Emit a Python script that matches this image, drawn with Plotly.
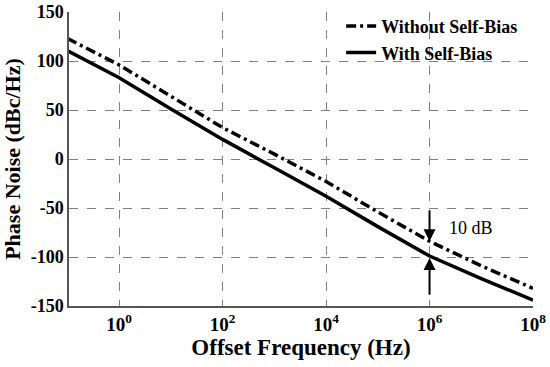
import plotly.graph_objects as go

freq = [0.1, 1, 10, 100, 1e3, 1e4, 1e5, 1e6, 1e7, 1e8]
without_bias = [123, 96, 64, 32, 5, -23, -54, -84, -109, -132]
with_bias = [110.5, 83, 51, 20, -9, -38, -69, -99, -122, -144]

x_tickvals = [1, 1e2, 1e4, 1e6, 1e8]
x_ticktext = ["10<sup>0</sup>", "10<sup>2</sup>", "10<sup>4</sup>", "10<sup>6</sup>", "10<sup>8</sup>"]
y_tickvals = [-150, -100, -50, 0, 50, 100, 150]
y_ticktext = ["-150", "-100", "-50", "0", "50", "100", "150"]

FONT = "Liberation Serif"

fig = go.Figure()
fig.add_trace(go.Scatter(x=freq, y=without_bias, mode="lines", name="Without Self-Bias",
                         line=dict(color="black", width=3.5, dash="10px,4px,3px,4px")))
fig.add_trace(go.Scatter(x=freq, y=with_bias, mode="lines", name="With Self-Bias",
                         line=dict(color="black", width=3.5)))

# arrows at 1 MHz
fig.add_annotation(x=6, y=-84, ax=6, ay=-51, xref="x", yref="y", axref="x", ayref="y",
                   text="", showarrow=True, arrowhead=2, arrowsize=1.2, arrowwidth=2, arrowcolor="black")
fig.add_annotation(x=6, y=-101, ax=6, ay=-140, xref="x", yref="y", axref="x", ayref="y",
                   text="", showarrow=True, arrowhead=2, arrowsize=1.2, arrowwidth=2, arrowcolor="black")
fig.add_annotation(x=6.8, y=-70, xref="x", yref="y", text="10 dB", showarrow=False,
                   font=dict(family=FONT, size=18, color="black"))

fig.update_layout(
    width=550, height=367,
    margin=dict(l=69, r=17, t=12, b=61, autoexpand=False),
    paper_bgcolor="white", plot_bgcolor="white",
    font=dict(family=FONT, color="black"),
    showlegend=True,
    legend=dict(x=0.5865, y=1.014, xanchor="left", yanchor="top", bgcolor="rgba(0,0,0,0)",
                font=dict(family=FONT, size=18, color="black", weight="bold"), tracegroupgap=0,
                itemwidth=30),
    xaxis=dict(type="log", range=[-0.97, 8], tickvals=x_tickvals, ticktext=x_ticktext,
               showgrid=True, gridcolor="#808080", griddash="dash", gridwidth=1,
               showline=True, linecolor="#555555", linewidth=1.5, mirror=False,
               ticks="", zeroline=False, automargin=False,
               tickfont=dict(family=FONT, size=19, color="black", weight="bold"),
               title=dict(text="Offset Frequency (Hz)",
                          font=dict(family=FONT, size=23, color="black", weight="bold"),
                          standoff=2)),
    yaxis=dict(range=[-150, 150], tickvals=y_tickvals, ticktext=y_ticktext,
               showgrid=True, gridcolor="#808080", griddash="dash", gridwidth=1,
               showline=True, linecolor="#555555", linewidth=1.5, mirror=False,
               ticks="", zeroline=False, automargin=False,
               tickfont=dict(family=FONT, size=18, color="black", weight="bold"),
               title=dict(text="Phase Noise (dBc/Hz)",
                          font=dict(family=FONT, size=22, color="black", weight="bold"),
                          standoff=4)),
)

fig.write_html("out.html", config={"displayModeBar": False},
               post_script="document.body.style.margin='0';")
